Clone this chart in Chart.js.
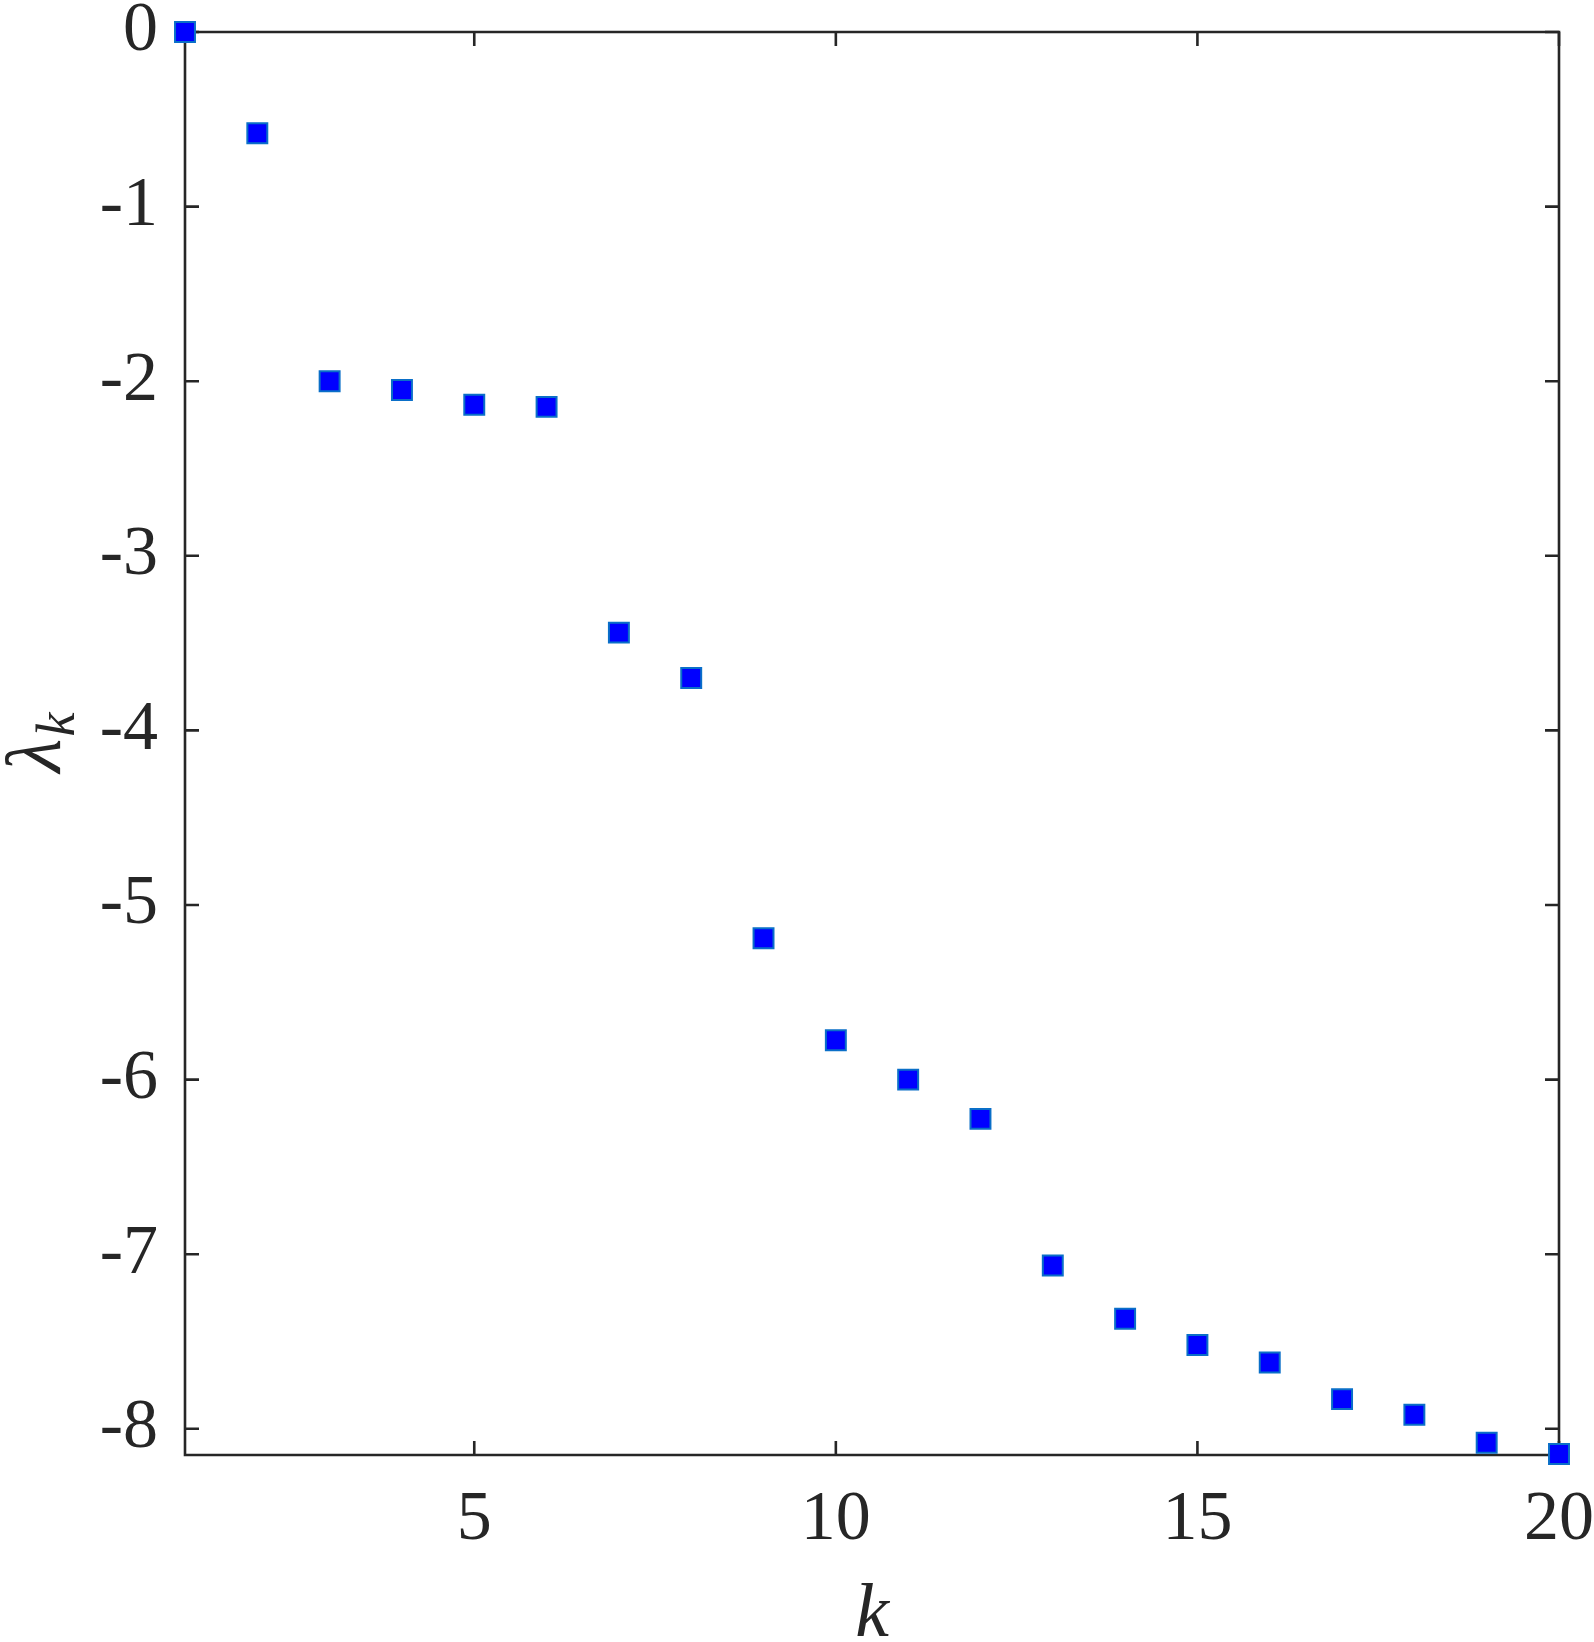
<!DOCTYPE html>
<html>
<head>
<meta charset="utf-8">
<script src="https://cdn.jsdelivr.net/npm/chart.js@4.4.1/dist/chart.umd.min.js"></script>
<style>
html,body{margin:0;padding:0;background:#fff;}
#wrap{width:1594px;height:1642px;}
</style>
</head>
<body>
<div id="wrap"><canvas id="c" width="1594" height="1642"></canvas></div>
<script>
const kValues = [1,2,3,4,5,6,7,8,9,10,11,12,13,14,15,16,17,18,19,20];
const lambdaValues = [0,-0.58,-2.00,-2.05,-2.135,-2.147,-3.44,-3.70,-5.19,-5.775,-6.00,-6.225,-7.065,-7.37,-7.52,-7.62,-7.83,-7.92,-8.08,-8.144];
const xTicks = [5,10,15,20];
const yTicks = [0,-1,-2,-3,-4,-5,-6,-7,-8];
const xTitle = 'k';
const yTitleMain = 'λ';
const yTitleSub = 'k';

const AX = '#262626';
const FONT = 'Liberation Serif, DejaVu Serif, serif';

const boxPlugin = {
  id: 'box',
  beforeDatasetsDraw(chart) {
    const ctx = chart.ctx, a = chart.chartArea;
    const xs = chart.scales.x, ys = chart.scales.y;
    ctx.save();
    ctx.strokeStyle = AX;
    ctx.lineWidth = 2.6;
    ctx.beginPath();
    ctx.rect(a.left, a.top, a.right - a.left, a.bottom - a.top);
    ctx.stroke();
    const L = 14;
    ctx.beginPath();
    xTicks.forEach(v => {
      const px = xs.getPixelForValue(v);
      ctx.moveTo(px, a.bottom); ctx.lineTo(px, a.bottom - L);
      ctx.moveTo(px, a.top); ctx.lineTo(px, a.top + L);
    });
    yTicks.forEach(v => {
      const py = ys.getPixelForValue(v);
      ctx.moveTo(a.left, py); ctx.lineTo(a.left + L, py);
      ctx.moveTo(a.right, py); ctx.lineTo(a.right - L, py);
    });
    ctx.stroke();
    ctx.restore();
  },
  afterDraw(chart) {
    const ctx = chart.ctx, a = chart.chartArea;
    ctx.save();
    ctx.fillStyle = AX;
    ctx.textBaseline = 'alphabetic';
    ctx.textAlign = 'center';
    ctx.font = 'italic 76px ' + FONT;
    ctx.fillText(xTitle, (a.left + a.right) / 2, 1636);
    ctx.translate(60, (a.top + a.bottom) / 2);
    ctx.rotate(-Math.PI / 2);
    ctx.textAlign = 'left';
    ctx.font = 'italic 78px ' + FONT;
    const w1 = ctx.measureText(yTitleMain).width;
    ctx.font = 'italic 54px ' + FONT;
    const w2 = ctx.measureText(yTitleSub).width;
    const x0 = -(w1 + w2) / 2;
    ctx.font = 'italic 78px ' + FONT;
    ctx.fillText(yTitleMain, x0, 0);
    ctx.font = 'italic 54px ' + FONT;
    ctx.fillText(yTitleSub, x0 + w1 + 2, 14);
    ctx.restore();
  }
};

new Chart(document.getElementById('c'), {
  type: 'scatter',
  data: {
    datasets: [{
      data: kValues.map((k, i) => ({x: k, y: lambdaValues[i]})),
      pointStyle: 'rect',
      pointRadius: 14.1,
      pointHoverRadius: 14.1,
      backgroundColor: '#0000ff',
      borderColor: '#0a6fc8',
      borderWidth: 2,
      clip: false
    }]
  },
  options: {
    responsive: false,
    animation: false,
    events: [],
    layout: { padding: { top: 32, right: 35, left: 0, bottom: 0 } },
    plugins: { legend: { display: false }, tooltip: { enabled: false } },
    scales: {
      x: {
        type: 'linear', min: 1, max: 20,
        afterBuildTicks(s) { s.ticks = xTicks.map(v => ({value: v})); },
        afterFit(s) { s.height = 187; s.paddingLeft = 0; s.paddingRight = 0; },
        grid: { display: false, drawTicks: false },
        border: { display: false },
        ticks: { color: AX, padding: 24, maxRotation: 0, autoSkip: false,
          font: { family: FONT, size: 70 }, callback: v => String(v) }
      },
      y: {
        type: 'linear', min: -8.15, max: 0,
        afterBuildTicks(s) { s.ticks = yTicks.map(v => ({value: v})); },
        afterFit(s) { s.width = 185; s.paddingTop = 0; s.paddingBottom = 0; },
        grid: { display: false, drawTicks: false },
        border: { display: false },
        ticks: { color: AX, padding: 27, autoSkip: false,
          font: { family: FONT, size: 70 }, callback: v => String(v) }
      }
    }
  },
  plugins: [boxPlugin]
});
</script>
</body>
</html>
